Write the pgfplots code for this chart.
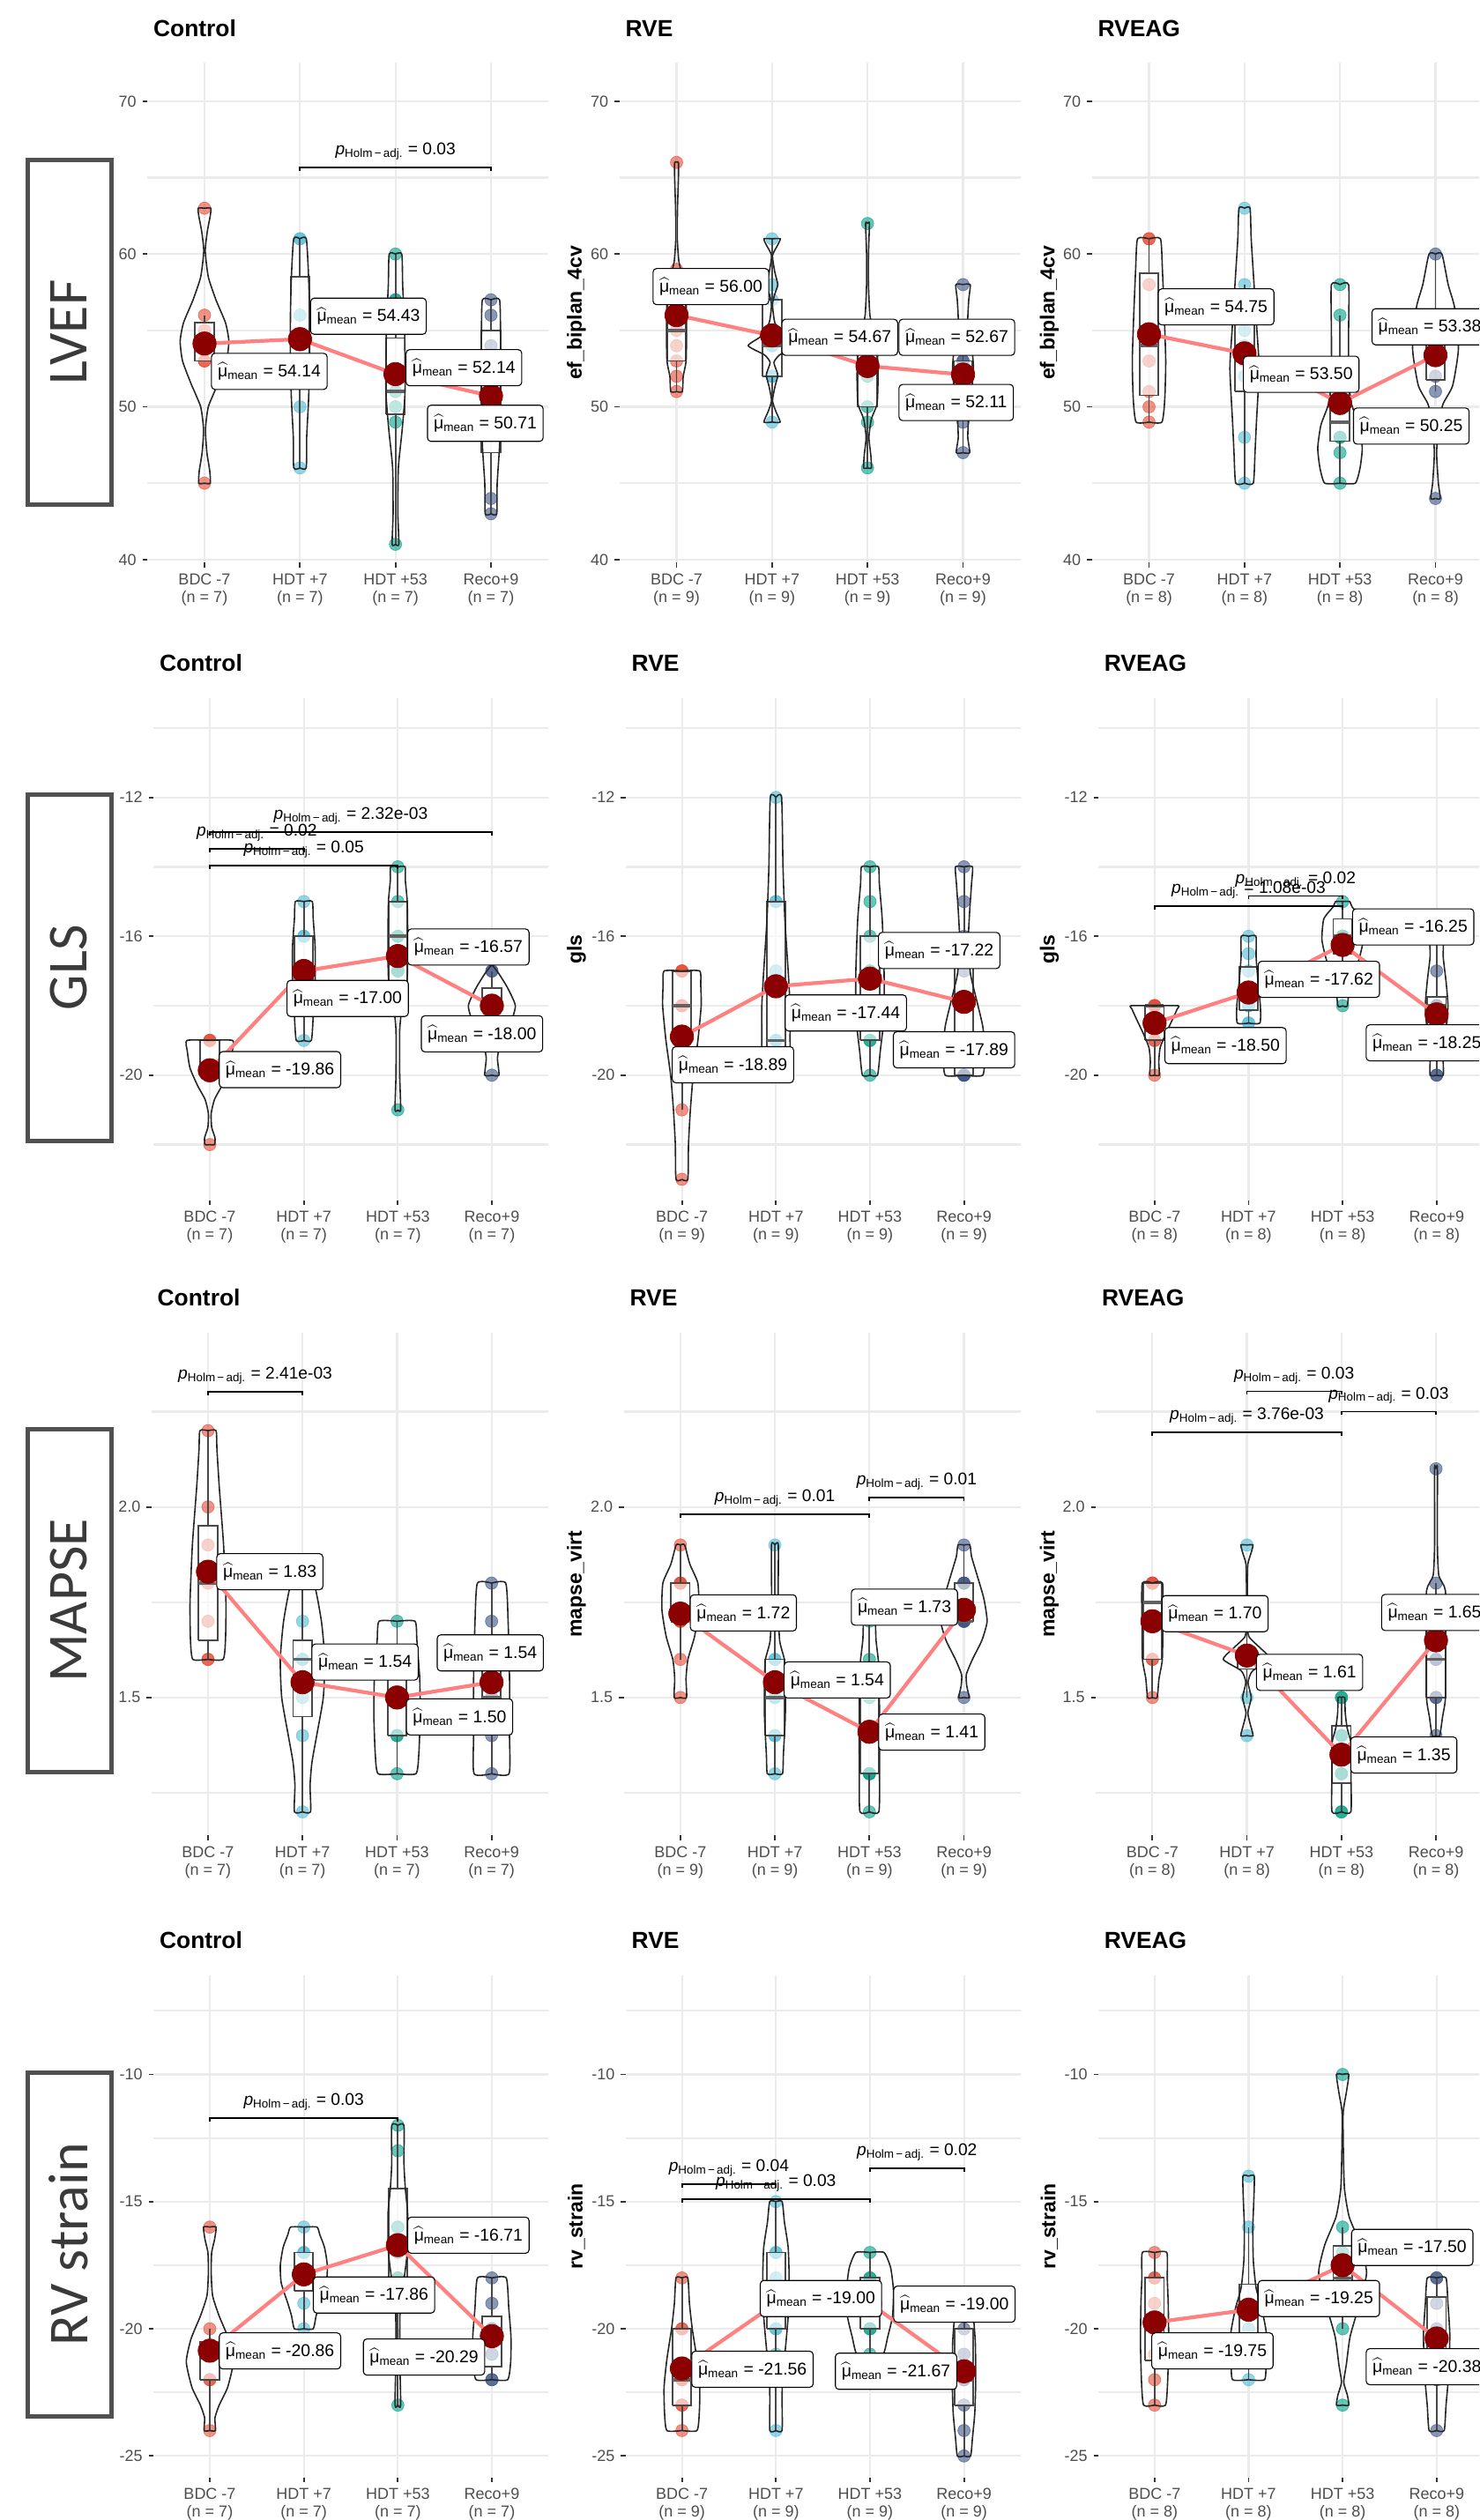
\documentclass[border=0pt]{standalone}
\usepackage{amsmath}
\usepackage{fontspec}
\setmainfont{Liberation Sans}
\newfontfamily\rowfont{Carlito}
\usepackage{pgfplots}
\pgfplotsset{compat=1.18}

\definecolor{cBDC}{HTML}{E64B35}
\definecolor{cHa}{HTML}{4DBBD5}
\definecolor{cHb}{HTML}{00A087}
\definecolor{cRe}{HTML}{3C5488}
\definecolor{gridc}{HTML}{EBEBEB}
\definecolor{tickc}{HTML}{4D4D4D}
\definecolor{tickm}{HTML}{333333}
\definecolor{meanred}{HTML}{8B0000}
\definecolor{meanline}{HTML}{FF8080}
\definecolor{rowgray}{HTML}{505050}
\definecolor{rowtext}{HTML}{3A3A3A}

\newcommand\muhat{\ensuremath{\widehat{\text{μ}}}}

\pgfplotsset{
  panel/.style={
    scale only axis, clip=false, clip marker paths=true, anchor=south west,
    xmin=0.4, xmax=4.6, xtick={1,2,3,4},
    axis line style={draw=none},
    tick align=outside, major tick length=2.6pt, minor tick length=0pt,
    xtick pos=left, ytick pos=left,
    tick style={draw=tickm, line width=0.9pt},
    xmajorgrids, ymajorgrids, yminorgrids,
    major grid style={draw=gridc, line width=1.1pt},
    minor grid style={draw=gridc, line width=1.1pt},
    tick label style={font=\fontsize{9}{10}\selectfont, text=tickc},
    xticklabel style={align=center},
    title style={at={(0,1)}, anchor=base west, yshift=9pt,
      font=\fontsize{13.2}{15}\selectfont\bfseries},
  },
  rA/.style={ymin=39.79, ymax=72.52, ytick={40,50,60,70},
    yticklabels={40,50,60,70}, minor ytick={45,55,65},
    width=227.5pt, height=283.6pt},
  rB/.style={ymin=-23.61, ymax=-9.14, ytick={-20,-16,-12},
    yticklabels={-20,-16,-12}, minor ytick={-22,-18,-14,-10},
    width=224pt, height=285pt},
  rC/.style={ymin=1.138, ymax=2.457, ytick={1.5,2},
    yticklabels={1.5,2.0}, minor ytick={1.25,1.75,2.25},
    width=225.2pt, height=285.2pt},
  rD/.style={ymin=-25.84, ymax=-6.1, ytick={-25,-20,-15,-10},
    yticklabels={-25,-20,-15,-10}, minor ytick={-22.5,-17.5,-12.5,-7.5},
    width=224pt, height=284.8pt},
  n7/.style={xticklabels={{BDC -7\\(n = 7)},{HDT +7\\(n = 7)},{HDT +53\\(n = 7)},{Reco+9\\(n = 7)}}},
  n8/.style={xticklabels={{BDC -7\\(n = 8)},{HDT +7\\(n = 8)},{HDT +53\\(n = 8)},{Reco+9\\(n = 8)}}},
  n9/.style={xticklabels={{BDC -7\\(n = 9)},{HDT +7\\(n = 9)},{HDT +53\\(n = 9)},{Reco+9\\(n = 9)}}},
  vio/.style={draw=black!85, line width=0.8pt, smooth, tension=0.35, mark=none},
  boxst/.style={draw=black!72, line width=0.9pt, fill=white, fill opacity=0.6, mark=none},
  whst/.style={draw=black!72, line width=0.9pt, mark=none},
  medst/.style={draw=black!62, line width=1.8pt, mark=none},
  meanln/.style={color=meanline, line width=2.1pt, mark=none},
  meanpt/.style={only marks, mark=*, mark size=6.6pt, color=meanred},
  brk/.style={black, line width=0.9pt, mark=none},
}
\tikzset{
  mlab/.style={draw=black, line width=0.55pt, fill=white, rounded corners=2pt,
    anchor=west, font=\fontsize{9.7}{11}\selectfont, inner xsep=3.6pt,
    inner ysep=0pt, minimum height=20.5pt},
  plab/.style={anchor=base, yshift=7.25pt, font=\fontsize{9.6}{11}\selectfont, inner sep=0pt},
  ylab/.style={rotate=90, anchor=center, font=\fontsize{11.5}{13}\selectfont\bfseries},
}

% individual observations of one group
\newcommand\pts[3]{\addplot[only marks, mark=*, mark size=3.5pt, color=#2, opacity=0.6]
  table[row sep=\\, x expr=#1, y=v] {v\\#3\\};}
% box: position, lower whisker, Q1, median, Q3, upper whisker
\newcommand\bx[6]{%
  \addplot[whst] table[row sep=\\, x expr=#1, y=v] {v\\#2\\#3\\};
  \addplot[whst] table[row sep=\\, x expr=#1, y=v] {v\\#5\\#6\\};
  \addplot[boxst] table[row sep=\\, x expr={#1+(\thisrow{d})}, y=v]
    {d v\\-0.1 #3\\0.1 #3\\0.1 #5\\-0.1 #5\\-0.1 #3\\};
  \addplot[medst] table[row sep=\\, x expr={#1+(\thisrow{d})}, y=v]
    {d v\\-0.1 #4\\0.1 #4\\};}
% violin outline from a half-width profile (y, w)
\newcommand\vio[2]{%
  \addplot[vio] table[row sep=\\, x expr={#1+\thisrow{w}}, y=y] {y w\\#2\\};
  \addplot[vio] table[row sep=\\, x expr={#1-\thisrow{w}}, y=y] {y w\\#2\\};}
% group means, joined
\newcommand\means[1]{\addplot[meanln] coordinates {#1}; \addplot[meanpt] coordinates {#1};}
% mean label
\newcommand\ml[3]{\node[mlab] at (axis cs:#1,#2) {\muhat\textsubscript{mean} = #3};}
% pairwise comparison bracket: from, to, height, tip end, label x, p value
\newcommand\brk[6]{\addplot[brk] coordinates {(#1,#4) (#1,#3) (#2,#3) (#2,#4)};
  \node[plab] at (axis cs:#5,#3) {\textit{p}\textsubscript{Holm\,−\,adj.} = #6};}

\begin{document}
\begin{tikzpicture}
\useasboundingbox (0,0) rectangle (839pt,1429.5pt);
\clip (0,0) rectangle (839pt,1429.5pt);

% ---------------- LVEF ----------------
\begin{axis}[panel, rA, n7, at={(83.5pt,1110.25pt)}, title=Control]
\pts{1}{cBDC}{45\\53\\53\\54\\55\\56\\63}
\pts{2}{cHa}{46\\50\\53\\54\\56\\61\\61}
\pts{3}{cHb}{41\\49\\50\\51\\57\\57\\60}
\pts{4}{cRe}{43\\44\\50\\51\\54\\56\\57}
\bx{1}{53}{53}{54}{55.5}{56}
\bx{2}{46}{51.5}{54}{58.5}{61}
\bx{3}{41}{49.5}{51}{54.5}{60}
\bx{4}{43}{47}{51}{55}{57}
\vio{1}{45 0\\45 0.06\\45.8 0.055\\47 0.025\\48.5 0.01\\50 0.04\\51.5 0.14\\53 0.23\\54.3 0.255\\55.5 0.22\\57 0.12\\58.5 0.04\\60.2 0.008\\61.5 0.03\\62.5 0.06\\63 0.066\\63 0}
\vio{2}{46 0\\46 0.065\\48 0.07\\50.5 0.09\\53 0.1\\56 0.1\\58.5 0.09\\61 0.066\\61 0}
\vio{3}{41 0\\41 0.035\\43 0.025\\46 0.03\\48.5 0.07\\51 0.1\\55 0.095\\58 0.075\\60 0.066\\60 0}
\vio{4}{43 0\\43 0.06\\45 0.065\\47.5 0.09\\51 0.1\\54.5 0.1\\57 0.09\\57 0}
\brk{2}{4}{65.67}{65.44}{3}{0.03}
\means{(1,54.14) (2,54.43) (3,52.14) (4,50.71)}
\ml{1.068}{52.32}{54.14}
\ml{2.106}{55.93}{54.43}
\ml{3.106}{52.56}{52.14}
\ml{3.33}{48.92}{50.71}
\end{axis}

\begin{axis}[panel, rA, n9, at={(351.25pt,1110.25pt)}, title=RVE]
\pts{1}{cBDC}{51\\52\\53\\54\\55\\56\\58\\59\\66}
\pts{2}{cHa}{49\\52\\52\\54\\54\\55\\57\\58\\61}
\pts{3}{cHb}{46\\49\\50\\52\\53\\54\\54\\54\\62}
\pts{4}{cRe}{47\\49\\50\\52\\52\\53\\53\\55\\58}
\bx{1}{51}{53}{55}{58}{59}
\bx{2}{49}{52}{54}{57}{61}
\bx{3}{46}{50}{53}{54}{54}
\bx{4}{47}{50}{52}{53}{55}
\vio{1}{51 0\\51 0.06\\52 0.07\\53 0.1\\55 0.105\\57 0.1\\58.3 0.07\\59.5 0.025\\61 0.008\\63 0.01\\65 0.02\\66 0.02\\66 0}
\vio{2}{49 0\\49 0.085\\49.7 0.04\\50.4 0.005\\51.3 0.03\\52.1 0.06\\52.9 0.02\\53.4 0.08\\54 0.25\\54.6 0.12\\55.5 0.03\\56.7 0.005\\57.4 0.03\\58 0.06\\58.8 0.03\\59.9 0.005\\60.6 0.06\\61 0.085\\61 0}
\vio{3}{46 0\\46 0.04\\46.8 0.035\\48 0.015\\49.2 0.04\\50.2 0.1\\52 0.11\\54 0.1\\55 0.06\\56 0.025\\58 0.01\\60 0.01\\62 0.02\\62 0}
\vio{4}{47 0\\47 0.07\\48 0.05\\49.5 0.06\\51 0.09\\52.5 0.11\\54 0.09\\55.5 0.05\\57 0.06\\58 0.075\\58 0}
\means{(1,56.00) (2,54.67) (3,52.67) (4,52.11)}
\ml{0.749}{57.87}{56.00}
\ml{2.099}{54.55}{54.67}
\ml{3.325}{54.55}{52.67}
\ml{3.325}{50.28}{52.11}
\node[ylab] at (rel axis cs:-0.1066,0.5) {ef\_biplan\_4cv};
\end{axis}

\begin{axis}[panel, rA, n8, at={(619.25pt,1110.25pt)}, title=RVEAG]
\pts{1}{cBDC}{49\\50\\51\\53\\55\\58\\61\\61}
\pts{2}{cHa}{45\\48\\52\\53\\54\\55\\58\\63}
\pts{3}{cHb}{45\\47\\48\\48\\50\\50\\56\\58}
\pts{4}{cRe}{44\\51\\52\\54\\55\\55\\56\\60}
\bx{1}{49}{50.75}{54}{58.75}{61}
\bx{2}{45}{51}{53.5}{55.75}{58}
\bx{3}{45}{47.75}{49}{51.5}{56}
\bx{4}{51}{51.75}{54.5}{55.25}{60}
\vio{1}{49 0\\49 0.135\\50.5 0.165\\53 0.175\\56 0.16\\59 0.14\\61 0.12\\61 0}
\vio{2}{45 0\\45 0.092\\47 0.11\\49 0.125\\52.5 0.153\\55 0.13\\58 0.1\\61 0.07\\63 0.058\\63 0}
\vio{3}{45 0\\45 0.16\\46 0.21\\47.3 0.233\\48.8 0.2\\50.2 0.12\\52 0.09\\55 0.09\\58 0.09\\58 0}
\vio{4}{44 0\\44 0.05\\45 0.03\\47 0.012\\49 0.035\\50.2 0.08\\51.4 0.18\\53.8 0.24\\56.5 0.2\\58 0.133\\60 0.068\\60 0}
\means{(1,54.75) (2,53.50) (3,50.25) (4,53.38)}
\ml{1.092}{56.54}{54.75}
\ml{1.983}{52.13}{53.50}
\ml{3.136}{48.74}{50.25}
\ml{3.33}{55.24}{53.38}
\node[ylab] at (rel axis cs:-0.1055,0.5) {ef\_biplan\_4cv};
\end{axis}

% ---------------- GLS ----------------
\begin{axis}[panel, rB, n7, at={(87pt,748.5pt)}, title=Control]
\pts{1}{cBDC}{-22\\-20\\-20\\-20\\-19\\-19\\-19}
\pts{2}{cHa}{-19\\-18\\-18\\-17\\-16\\-16\\-15}
\pts{3}{cHb}{-21\\-17\\-17\\-16\\-16\\-15\\-14}
\pts{4}{cRe}{-20\\-18\\-18\\-18\\-18\\-17\\-17}
\bx{1}{-20}{-20}{-20}{-19}{-19}
\bx{2}{-19}{-18}{-17}{-16}{-15}
\bx{3}{-17.4}{-17.4}{-16}{-15}{-14}
\bx{4}{-18}{-18}{-18}{-17.5}{-17}
\vio{1}{-22 0\\-22 0.05\\-21.8 0.055\\-21.5 0.02\\-21.1 0.015\\-20.7 0.05\\-20.3 0.13\\-19.8 0.21\\-19.3 0.24\\-19 0.243\\-19 0}
\vio{2}{-19 0\\-19 0.08\\-18.3 0.1\\-17.3 0.12\\-16.3 0.12\\-15.5 0.1\\-15 0.09\\-15 0}
\vio{3}{-21 0\\-21 0.03\\-20 0.02\\-18.7 0.02\\-17.9 0.05\\-17.2 0.1\\-16 0.105\\-15 0.1\\-14.4 0.08\\-14 0.077\\-14 0}
\vio{4}{-20 0\\-20 0.075\\-19.5 0.06\\-19 0.1\\-18.5 0.2\\-18 0.25\\-17.5 0.17\\-17.1 0.08\\-16.85 0.01\\-16.85 0}
\brk{1}{4}{-12.99}{-13.09}{2.5}{2.32e-03}
\brk{1}{2}{-13.48}{-13.58}{1.5}{0.02}
\brk{1}{3}{-13.97}{-14.07}{2}{0.05}
\means{(1,-19.86) (2,-17.00) (3,-16.57) (4,-18.00)}
\ml{1.096}{-19.84}{-19.86}
\ml{1.816}{-17.79}{-17.00}
\ml{3.1}{-16.31}{-16.57}
\ml{3.245}{-18.81}{-18.00}
\end{axis}

\begin{axis}[panel, rB, n9, at={(354.8pt,748.5pt)}, title=RVE]
\pts{1}{cBDC}{-23\\-21\\-19\\-19\\-18\\-18\\-17\\-17\\-17}
\pts{2}{cHa}{-20\\-20\\-20\\-19\\-19\\-17\\-15\\-15\\-12}
\pts{3}{cHb}{-20\\-19\\-19\\-18\\-17\\-17\\-16\\-15\\-14}
\pts{4}{cRe}{-20\\-20\\-20\\-20\\-19\\-17\\-16\\-15\\-14}
\bx{1}{-21}{-19}{-18}{-17}{-17}
\bx{2}{-20}{-20}{-19}{-15}{-12}
\bx{3}{-20}{-19}{-17}{-16}{-14}
\bx{4}{-20}{-20}{-19}{-16}{-14}
\vio{1}{-23 0\\-23 0.063\\-22 0.07\\-21 0.09\\-20 0.12\\-19 0.17\\-18 0.205\\-17.4 0.2\\-17 0.19\\-17 0}
\vio{2}{-20 0\\-20 0.15\\-19 0.15\\-18 0.15\\-17 0.13\\-15.5 0.095\\-14 0.075\\-12 0.06\\-12 0}
\vio{3}{-20 0\\-20 0.08\\-19.3 0.11\\-18.3 0.15\\-17 0.15\\-15.5 0.13\\-14.5 0.1\\-14 0.09\\-14 0}
\vio{4}{-20 0\\-20 0.2\\-19.3 0.22\\-18.6 0.2\\-17.9 0.14\\-17.1 0.07\\-16.2 0.045\\-15.3 0.06\\-14.5 0.08\\-14 0.09\\-14 0}
\means{(1,-18.89) (2,-17.44) (3,-17.22) (4,-17.89)}
\ml{0.892}{-19.7}{-18.89}
\ml{2.093}{-18.21}{-17.44}
\ml{3.086}{-16.41}{-17.22}
\ml{3.244}{-19.27}{-17.89}
\node[ylab] at (rel axis cs:-0.1241,0.5) {gls};
\end{axis}

\begin{axis}[panel, rB, n8, at={(622.9pt,748.5pt)}, title=RVEAG]
\pts{1}{cBDC}{-20\\-19\\-19\\-18\\-18\\-18\\-18\\-18}
\pts{2}{cHa}{-18.5\\-18.5\\-18\\-18\\-17.5\\-17\\-16.5\\-16}
\pts{3}{cHb}{-18\\-17\\-16\\-16\\-16\\-16\\-16\\-15}
\pts{4}{cRe}{-20\\-20\\-19\\-18\\-18\\-18\\-17\\-16}
\bx{1}{-20}{-19}{-18}{-18}{-18}
\bx{2}{-18.5}{-18.125}{-17.75}{-16.875}{-16}
\bx{3}{-17}{-16.5}{-16}{-15.5}{-15}
\bx{4}{-20}{-19.25}{-18}{-17.75}{-16}
\vio{1}{-20 0\\-20 0.05\\-19.6 0.045\\-19.2 0.06\\-18.8 0.12\\-18.4 0.19\\-18.1 0.24\\-18 0.25\\-18 0}
\vio{2}{-18.5 0\\-18.5 0.12\\-18 0.125\\-17.3 0.1\\-16.6 0.08\\-16 0.078\\-16 0}
\vio{3}{-18 0\\-18 0.05\\-17.3 0.08\\-16.7 0.17\\-16.1 0.22\\-15.5 0.2\\-15.15 0.1\\-15 0.075\\-15 0}
\vio{4}{-20 0\\-20 0.07\\-19.5 0.07\\-18.8 0.1\\-18 0.12\\-17.3 0.1\\-16.6 0.07\\-16 0.07\\-16 0}
\brk{1}{3}{-15.13}{-15.23}{2}{1.08e-03}
\brk{2}{3}{-14.84}{-14.94}{2.5}{0.02}
\means{(1,-18.50) (2,-17.62) (3,-16.25) (4,-18.25)}
\ml{1.104}{-19.15}{-18.50}
\ml{2.097}{-17.24}{-17.62}
\ml{3.1}{-15.73}{-16.25}
\ml{3.246}{-19.07}{-18.25}
\node[ylab] at (rel axis cs:-0.1234,0.5) {gls};
\end{axis}

% ---------------- MAPSE ----------------
\begin{axis}[panel, rC, n7, at={(85.8pt,388.3pt)}, title=Control]
\pts{1}{cBDC}{1.6\\1.6\\1.7\\1.8\\1.9\\2.0\\2.2}
\pts{2}{cHa}{1.2\\1.4\\1.5\\1.6\\1.6\\1.7\\1.8}
\pts{3}{cHb}{1.3\\1.4\\1.4\\1.5\\1.6\\1.6\\1.7}
\pts{4}{cRe}{1.3\\1.4\\1.5\\1.5\\1.6\\1.7\\1.8}
\bx{1}{1.6}{1.65}{1.8}{1.95}{2.2}
\bx{2}{1.2}{1.45}{1.6}{1.65}{1.8}
\bx{3}{1.3}{1.4}{1.5}{1.6}{1.7}
\bx{4}{1.3}{1.45}{1.5}{1.65}{1.8}
\vio{1}{1.6 0\\1.6 0.16\\1.65 0.185\\1.75 0.19\\1.9 0.165\\2.05 0.12\\2.15 0.095\\2.2 0.085\\2.2 0}
\vio{2}{1.2 0\\1.2 0.085\\1.27 0.08\\1.33 0.1\\1.4 0.15\\1.5 0.22\\1.6 0.235\\1.7 0.2\\1.8 0.12\\1.8 0}
\vio{3}{1.3 0\\1.3 0.2\\1.35 0.23\\1.45 0.245\\1.55 0.24\\1.65 0.21\\1.7 0.19\\1.7 0}
\vio{4}{1.3 0\\1.3 0.185\\1.4 0.19\\1.55 0.19\\1.7 0.175\\1.8 0.15\\1.8 0}
\brk{1}{2}{2.302}{2.293}{1.5}{2.41e-03}
\means{(1,1.83) (2,1.54) (3,1.50) (4,1.54)}
\ml{1.088}{1.830}{1.83}
\ml{2.095}{1.593}{1.54}
\ml{3.095}{1.449}{1.50}
\ml{3.42}{1.617}{1.54}
\end{axis}

\begin{axis}[panel, rC, n9, at={(353.75pt,388.3pt)}, title=RVE]
\pts{1}{cBDC}{1.5\\1.6\\1.7\\1.7\\1.7\\1.8\\1.8\\1.8\\1.9}
\pts{2}{cHa}{1.3\\1.4\\1.4\\1.5\\1.5\\1.6\\1.6\\1.7\\1.9}
\pts{3}{cHb}{1.2\\1.3\\1.3\\1.3\\1.4\\1.4\\1.5\\1.6\\1.7}
\pts{4}{cRe}{1.5\\1.7\\1.7\\1.7\\1.7\\1.8\\1.8\\1.8\\1.9}
\bx{1}{1.6}{1.7}{1.7}{1.8}{1.9}
\bx{2}{1.3}{1.4}{1.5}{1.6}{1.9}
\bx{3}{1.2}{1.3}{1.4}{1.5}{1.7}
\bx{4}{1.7}{1.7}{1.7}{1.8}{1.9}
\vio{1}{1.5 0\\1.5 0.065\\1.55 0.06\\1.6 0.08\\1.66 0.15\\1.73 0.195\\1.8 0.185\\1.85 0.1\\1.9 0.045\\1.9 0}
\vio{2}{1.3 0\\1.3 0.08\\1.35 0.09\\1.45 0.11\\1.55 0.11\\1.6 0.1\\1.65 0.05\\1.75 0.035\\1.9 0.036\\1.9 0}
\vio{3}{1.2 0\\1.2 0.1\\1.3 0.107\\1.45 0.107\\1.58 0.1\\1.65 0.07\\1.7 0.06\\1.7 0}
\vio{4}{1.5 0\\1.5 0.055\\1.53 0.03\\1.56 0.025\\1.6 0.09\\1.65 0.19\\1.7 0.245\\1.76 0.21\\1.82 0.14\\1.87 0.08\\1.9 0.063\\1.9 0}
\brk{1}{3}{1.981}{1.972}{2}{0.01}
\brk{3}{4}{2.024}{2.015}{3.5}{0.01}
\means{(1,1.72) (2,1.54) (3,1.41) (4,1.73)}
\ml{1.1}{1.722}{1.72}
\ml{2.093}{1.546}{1.54}
\ml{3.093}{1.409}{1.41}
\ml{2.804}{1.737}{1.73}
\node[ylab] at (rel axis cs:-0.1188,0.5) {mapse\_virt};
\end{axis}

\begin{axis}[panel, rC, n8, at={(621.5pt,388.3pt)}, title=RVEAG]
\pts{1}{cBDC}{1.5\\1.6\\1.6\\1.7\\1.8\\1.8\\1.8\\1.8}
\pts{2}{cHa}{1.4\\1.5\\1.6\\1.6\\1.6\\1.6\\1.7\\1.9}
\pts{3}{cHb}{1.2\\1.2\\1.3\\1.3\\1.4\\1.4\\1.5\\1.5}
\pts{4}{cRe}{1.4\\1.5\\1.5\\1.6\\1.6\\1.7\\1.8\\2.1}
\bx{1}{1.5}{1.6}{1.75}{1.8}{1.8}
\bx{2}{1.5}{1.575}{1.6}{1.625}{1.7}
\bx{3}{1.2}{1.275}{1.35}{1.425}{1.5}
\bx{4}{1.4}{1.5}{1.6}{1.725}{1.8}
\vio{1}{1.5 0\\1.5 0.05\\1.55 0.07\\1.6 0.105\\1.7 0.11\\1.8 0.107\\1.8 0}
\vio{2}{1.4 0\\1.4 0.065\\1.43 0.035\\1.46 0.01\\1.5 0.045\\1.54 0.012\\1.57 0.06\\1.6 0.25\\1.63 0.14\\1.66 0.02\\1.7 0.005\\1.8 0.005\\1.85 0.01\\1.88 0.045\\1.9 0.064\\1.9 0}
\vio{3}{1.2 0\\1.2 0.1\\1.3 0.1\\1.38 0.1\\1.42 0.06\\1.46 0.04\\1.5 0.035\\1.5 0}
\vio{4}{1.4 0\\1.4 0.04\\1.45 0.07\\1.5 0.1\\1.65 0.1\\1.78 0.1\\1.82 0.03\\1.9 0.015\\2.1 0.015\\2.1 0}
\brk{1}{3}{2.195}{2.186}{2}{3.76e-03}
\brk{2}{3}{2.303}{2.294}{2.5}{0.03}
\brk{3}{4}{2.25}{2.241}{3.5}{0.03}
\means{(1,1.70) (2,1.61) (3,1.35) (4,1.65)}
\ml{1.096}{1.72}{1.70}
\ml{2.096}{1.566}{1.61}
\ml{3.093}{1.349}{1.35}
\ml{3.419}{1.723}{1.65}
\node[ylab] at (rel axis cs:-0.1166,0.5) {mapse\_virt};
\end{axis}

% ---------------- RV strain ----------------
\begin{axis}[panel, rD, n7, at={(87pt,24.2pt)}, title=Control]
\pts{1}{cBDC}{-24\\-22\\-22\\-21\\-21\\-20\\-16}
\pts{2}{cHa}{-20\\-19\\-18\\-18\\-17\\-17\\-16}
\pts{3}{cHb}{-23\\-18\\-18\\-17\\-16\\-13\\-12}
\pts{4}{cRe}{-22\\-22\\-21\\-20\\-20\\-19\\-18}
\bx{1}{-24}{-22}{-21}{-20.5}{-20}
\bx{2}{-20}{-18.5}{-18}{-17}{-16}
\bx{3}{-23}{-18}{-17}{-14.5}{-12}
\bx{4}{-22}{-21.5}{-20}{-19.5}{-18}
\vio{1}{-24 0\\-24 0.06\\-23.5 0.055\\-23 0.1\\-22.3 0.19\\-21.3 0.25\\-20.4 0.2\\-19.5 0.1\\-18.7 0.03\\-17.8 0.015\\-17 0.02\\-16.5 0.05\\-16 0.067\\-16 0}
\vio{2}{-20 0\\-20 0.1\\-19.5 0.13\\-19 0.17\\-18.2 0.24\\-17.5 0.25\\-16.8 0.22\\-16.3 0.17\\-16 0.14\\-16 0}
\vio{3}{-23 0\\-23 0.03\\-21 0.02\\-19 0.025\\-18.2 0.06\\-17 0.1\\-15.5 0.105\\-14.5 0.08\\-13.5 0.065\\-12 0.065\\-12 0}
\vio{4}{-22 0\\-22 0.168\\-21.3 0.2\\-20.3 0.203\\-19.2 0.18\\-18 0.153\\-18 0}
\brk{1}{3}{-11.72}{-11.86}{2}{0.03}
\means{(1,-20.86) (2,-17.86) (3,-16.71) (4,-20.29)}
\ml{1.096}{-20.87}{-20.86}
\ml{2.096}{-18.67}{-17.86}
\ml{3.1}{-16.32}{-16.71}
\ml{2.628}{-21.11}{-20.29}
\end{axis}

\begin{axis}[panel, rD, n9, at={(354.8pt,24.2pt)}, title=RVE]
\pts{1}{cBDC}{-24\\-23\\-23\\-22\\-22\\-22\\-20\\-20\\-18}
\pts{2}{cHa}{-24\\-21\\-20\\-20\\-19\\-18\\-17\\-17\\-15}
\pts{3}{cHb}{-21\\-20\\-20\\-19\\-19\\-19\\-18\\-18\\-17}
\pts{4}{cRe}{-25\\-24\\-23\\-22\\-22\\-21\\-20\\-19\\-19}
\bx{1}{-24}{-23}{-22}{-20}{-18}
\bx{2}{-24}{-20}{-19}{-17}{-15}
\bx{3}{-21}{-20}{-19}{-18}{-17}
\bx{4}{-25}{-23}{-22}{-20}{-19}
\vio{1}{-24 0\\-24 0.16\\-23.3 0.185\\-22.3 0.19\\-21.2 0.16\\-20 0.11\\-19 0.08\\-18 0.063\\-18 0}
\vio{2}{-24 0\\-24 0.065\\-22.8 0.065\\-21.8 0.07\\-20.8 0.1\\-19.5 0.13\\-18 0.14\\-16.8 0.13\\-15.8 0.09\\-15 0.066\\-15 0}
\vio{3}{-21 0\\-21 0.14\\-20.3 0.19\\-19.5 0.24\\-18.5 0.25\\-17.6 0.22\\-17 0.15\\-17 0}
\vio{4}{-25 0\\-25 0.07\\-24.3 0.09\\-23.3 0.115\\-22 0.125\\-20.5 0.12\\-19.5 0.1\\-19 0.09\\-19 0}
\brk{1}{2}{-14.31}{-14.45}{1.5}{0.04}
\brk{1}{3}{-14.9}{-15.04}{2}{0.03}
\brk{3}{4}{-13.7}{-13.84}{3.5}{0.02}
\means{(1,-21.56) (2,-19.00) (3,-19.00) (4,-21.67)}
\ml{1.1}{-21.59}{-21.56}
\ml{1.828}{-18.81}{-19.00}
\ml{3.248}{-19.03}{-19.00}
\ml{2.627}{-21.67}{-21.67}
\node[ylab] at (rel axis cs:-0.1241,0.5) {rv\_strain};
\end{axis}

\begin{axis}[panel, rD, n8, at={(622.9pt,24.2pt)}, title=RVEAG]
\pts{1}{cBDC}{-23\\-22\\-21\\-20\\-19\\-18\\-18\\-17}
\pts{2}{cHa}{-22\\-21\\-21\\-21\\-20\\-19\\-16\\-14}
\pts{3}{cHb}{-23\\-20\\-18\\-18\\-18\\-17\\-16\\-10}
\pts{4}{cRe}{-24\\-22\\-21\\-21\\-20\\-19\\-18\\-18}
\bx{1}{-23}{-21.25}{-19.5}{-18}{-17}
\bx{2}{-22}{-21}{-20.5}{-18.25}{-16}
\bx{3}{-20}{-18.5}{-18}{-16.75}{-16}
\bx{4}{-24}{-21.25}{-20.5}{-18.75}{-18}
\vio{1}{-23 0\\-23 0.117\\-22 0.14\\-20.5 0.15\\-19 0.145\\-18 0.135\\-17 0.13\\-17 0}
\vio{2}{-22 0\\-22 0.17\\-21.3 0.185\\-20.2 0.19\\-19.2 0.14\\-18.4 0.08\\-17.3 0.05\\-16 0.045\\-15 0.055\\-14 0.06\\-14 0}
\vio{3}{-23 0\\-23 0.065\\-22.6 0.05\\-22.1 0.012\\-21.4 0.04\\-20.3 0.08\\-19 0.18\\-17.8 0.255\\-16.7 0.19\\-15.6 0.07\\-14.5 0.02\\-13 0.008\\-11.5 0.006\\-10.7 0.04\\-10 0.065\\-10 0}
\vio{4}{-24 0\\-24 0.08\\-23 0.1\\-21.7 0.13\\-20.2 0.14\\-19 0.12\\-18 0.1\\-18 0}
\means{(1,-19.75) (2,-19.25) (3,-17.50) (4,-20.38)}
\ml{0.965}{-20.87}{-19.75}
\ml{2.097}{-18.81}{-19.25}
\ml{3.09}{-16.8}{-17.50}
\ml{3.246}{-21.49}{-20.38}
\node[ylab] at (rel axis cs:-0.1234,0.5) {rv\_strain};
\end{axis}

% ---------------- row headers ----------------
\begin{scope}[line width=2.5pt, draw=rowgray]
\draw (15.55pt,1143.25pt) rectangle (63.15pt,1338.55pt);
\draw (15.55pt,782.25pt) rectangle (63.15pt,978.9pt);
\draw (15.55pt,424.05pt) rectangle (63.15pt,618.9pt);
\draw (15.55pt,58.75pt) rectangle (63.15pt,253.75pt);
\end{scope}
\begin{scope}[every node/.style={rotate=90, anchor=center, text=rowtext,
    font=\rowfont\fontsize{32}{36}\selectfont}]
\node at (39pt,1240.9pt) {LVEF};
\node at (39pt,880.6pt) {GLS};
\node at (39pt,521.5pt) {MAPSE};
\node at (39pt,156.25pt) {RV strain};
\end{scope}
\end{tikzpicture}
\end{document}
